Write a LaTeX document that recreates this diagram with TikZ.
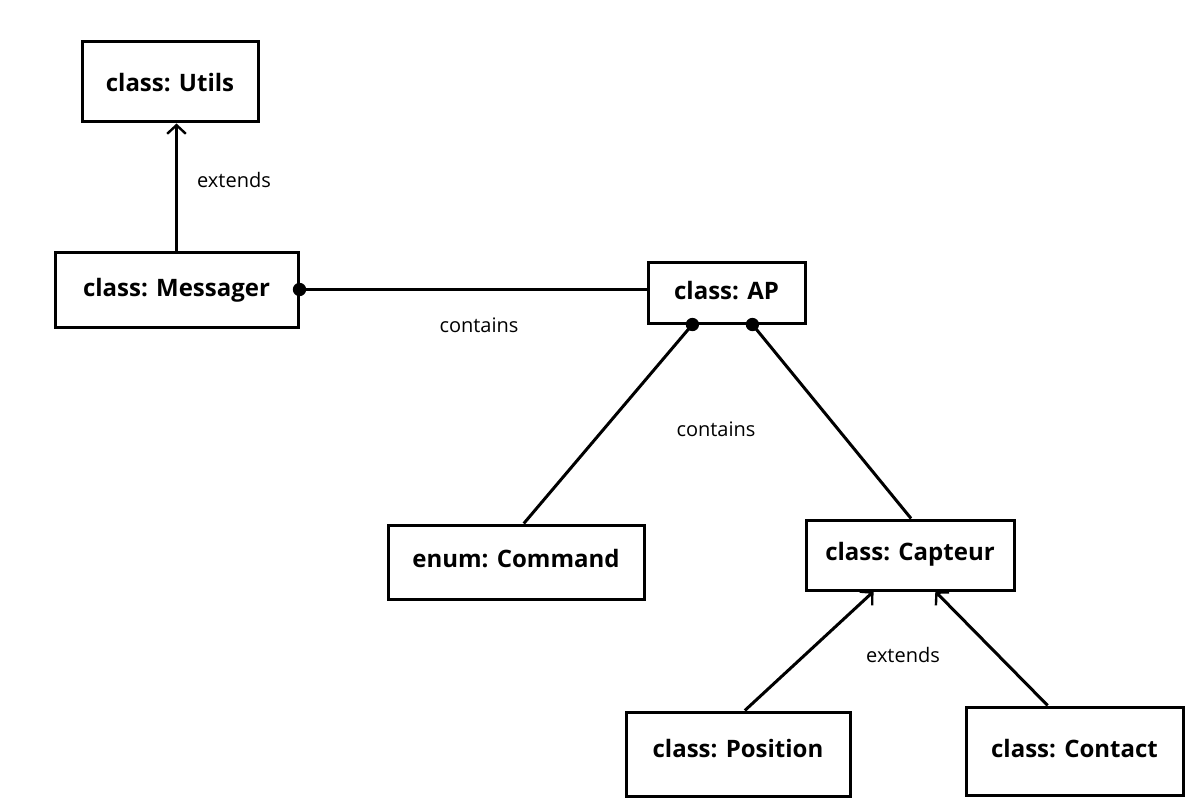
\documentclass[tikz,border=0pt]{standalone}
\usepackage{fontspec}
\setmainfont{Open Sans}
\usetikzlibrary{arrows.meta,calc}
\tikzset{
  box/.style={draw, line width=2.25pt, inner sep=0pt, text height=20pt, font=\fontsize{18}{21}\selectfont\bfseries},
  lbl/.style={font=\fontsize{15}{18}\selectfont, inner sep=0pt},
  conn/.style={line width=2.25pt},
  arr/.style={conn, -{Straight Barb[length=6.5pt,width=14pt,line width=1.8pt]}},
  dot/.style={fill=black, circle, inner sep=0pt, minimum size=10pt}
}
\begin{document}
\begin{tikzpicture}[x=0.75pt,y=-0.75pt]
\useasboundingbox (0,0) rectangle (1199,806);
\node[box, text depth=5.75pt, minimum width=132pt, minimum height=60pt] (utils) at (170,82) {class: Utils};
\node[box, text depth=9.5pt, minimum width=182.25pt, minimum height=56.25pt] (mes) at (176.5,289.5) {class: Messager};
\node[box, text depth=9.5pt, minimum width=117.75pt, minimum height=45.75pt] (ap) at (726.5,292.5) {class: AP};
\node[box, text depth=11.75pt, minimum width=192pt, minimum height=55.5pt] (cmd) at (516,562) {enum: Command};
\node[box, text depth=11.75pt, minimum width=156pt, minimum height=52.5pt] (cap) at (910,555) {class: Capteur};
\node[box, text depth=14.75pt, minimum width=168pt, minimum height=63pt] (pos) at (738,754) {class: Position};
\node[box, text depth=10.25pt, minimum width=162.75pt, minimum height=66pt] (con) at (1074.5,751) {class: Contact};

\draw[arr] (mes.north) -- (mes.north |- utils.south);
\draw[conn] (mes.east) -- (mes.east -| ap.west);
\node[dot] (d1) at (mes.east) {};

\coordinate (apa) at ($(ap.south west)!0.287!(ap.south east)$);
\coordinate (apb) at ($(ap.south west)!0.662!(ap.south east)$);
\draw[conn] (apa) -- ($(cmd.north west)!0.53!(cmd.north east)$);
\draw[conn] (apb) -- ($(cap.north west)!0.505!(cap.north east)$);
\node[dot] (d2) at (apa) {};
\node[dot] (d3) at (apb) {};

\draw[arr] ($(pos.north west)!0.53!(pos.north east)$) -- ($(cap.south west)!0.327!(cap.south east)$);
\draw[arr] ($(con.north west)!0.378!(con.north east)$) -- ($(cap.south west)!0.62!(cap.south east)$);

\node[lbl] (l1) at (234,180) {extends};
\node[lbl] (l2) at (479,325) {contains};
\node[lbl] (l3) at (716,429) {contains};
\node[lbl] (l4) at (903,655) {extends};
\end{tikzpicture}
\end{document}
